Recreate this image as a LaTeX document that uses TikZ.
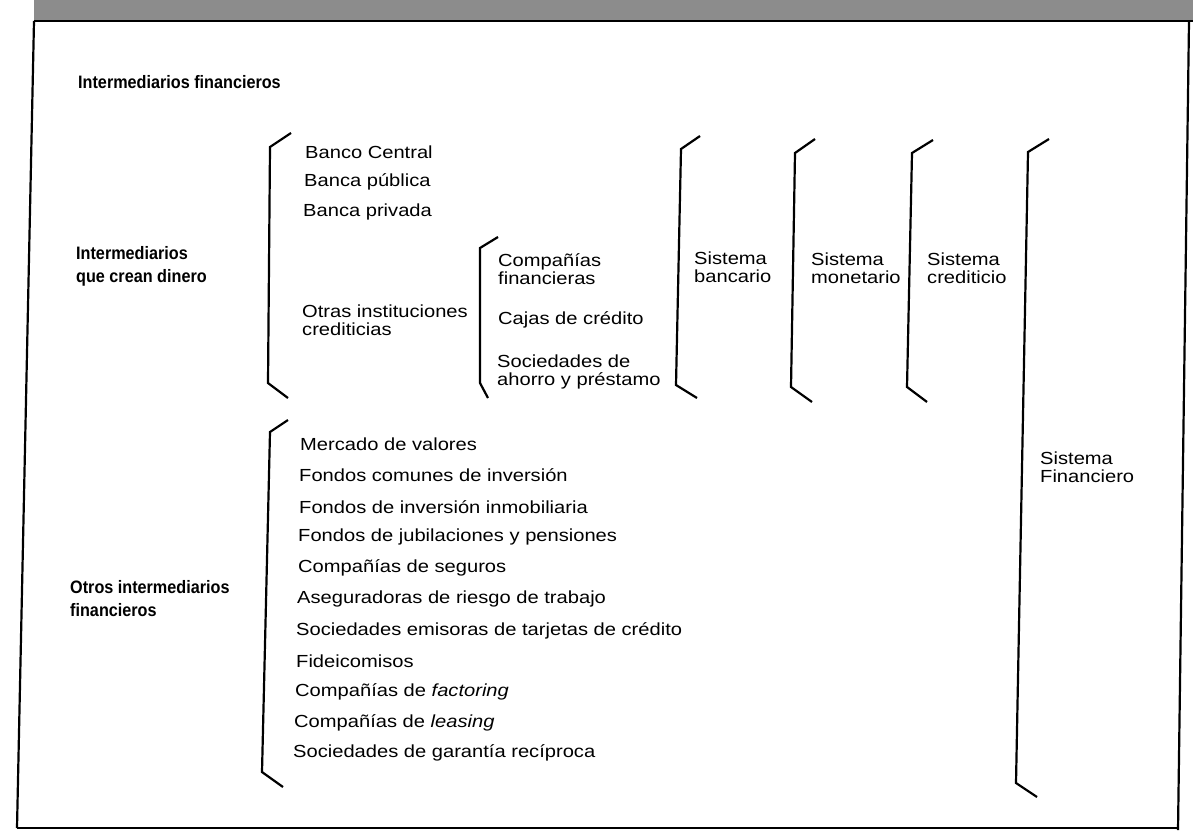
\documentclass[tikz,border=0pt]{standalone}
\usepackage{fontspec}
\setmainfont{Liberation Sans}
\newfontfamily\bodyf{Liberation Sans}[FakeStretch=1.15]
\newfontfamily\condf{Liberation Sans}[FakeStretch=0.9]
\begin{document}
\begin{tikzpicture}[x=1pt,y=-1pt,
  item/.style={anchor=west,inner sep=0pt,font=\bodyf\fontsize{17.5}{18.5}\selectfont,align=left},
  head/.style={anchor=west,inner sep=0pt,font=\condf\bfseries\fontsize{18}{23}\selectfont,align=left},
  brk/.style={line width=2.2pt,line join=miter},
  frm/.style={line width=2.2pt}]
\useasboundingbox (0,0) rectangle (1193,830);
% banner and frame
\fill[black!45] (34,0) rectangle (1193,21);
\draw[frm] (34,21) -- (1193,21);
\draw[frm] (34,21) -- (17,828);
\draw[frm] (1189,21) -- (1178,830);
\draw[line width=1.2pt] (17,828) -- (1178,828);
% headings
\node[head] (title) at (78,82) {Intermediarios financieros};
\node[head] (iqcd) at (76,266) {Intermediarios\\que crean dinero};
\node[head] (oif) at (70,599) {Otros intermediarios\\financieros};
% top group
\draw[brk] (291,133) -- (270,147) -- (268,383) -- (288,398);
\node[item] (bc) at (305,152) {Banco Central};
\node[item] (bpu) at (304,182) {Banca pública};
\node[item] (bpr) at (303,212) {Banca privada};
\node[item] (oic) at (302,320) {Otras instituciones\\crediticias};
\draw[brk] (498,237) -- (480,248) -- (480,383) -- (488,398);
\node[item] (cf) at (498,269) {Compañías\\financieras};
\node[item] (cc) at (498,320) {Cajas de crédito};
\node[item] (sap) at (497,372) {Sociedades de\\ahorro y préstamo};
% sistemas
\draw[brk] (700,136) -- (681,149) -- (676,385) -- (697,398);
\node[item] (sb) at (694,267) {Sistema\\bancario};
\draw[brk] (815,139) -- (795,153) -- (791,387) -- (812,402);
\node[item] (sm) at (811,268) {Sistema\\monetario};
\draw[brk] (933,140) -- (912,153) -- (907,387) -- (927,402);
\node[item] (sc) at (927,268) {Sistema\\crediticio};
\draw[brk] (1049,139) -- (1028,152) -- (1016,783) -- (1037,797);
\node[item] (sf) at (1040,467) {Sistema\\Financiero};
% lower group
\draw[brk] (288,420) -- (270,432) -- (262,772) -- (283,787);
\node[item] (l1) at (300,444) {Mercado de valores};
\node[item] (l2) at (299,475) {Fondos comunes de inversión};
\node[item] (l3) at (299,507) {Fondos de inversión inmobiliaria};
\node[item] (l4) at (298,537) {Fondos de jubilaciones y pensiones};
\node[item] (l5) at (298,568) {Compañías de seguros};
\node[item] (l6) at (297,599) {Aseguradoras de riesgo de trabajo};
\node[item] (l7) at (296,631) {Sociedades emisoras de tarjetas de crédito};
\node[item] (l8) at (296,661) {Fideicomisos};
\node[item] (l9) at (295,692) {Compañías de \textit{factoring}};
\node[item] (l10) at (294,723) {Compañías de \textit{leasing}};
\node[item] (l11) at (293,753) {Sociedades de garantía recíproca};
\end{tikzpicture}
\end{document}
